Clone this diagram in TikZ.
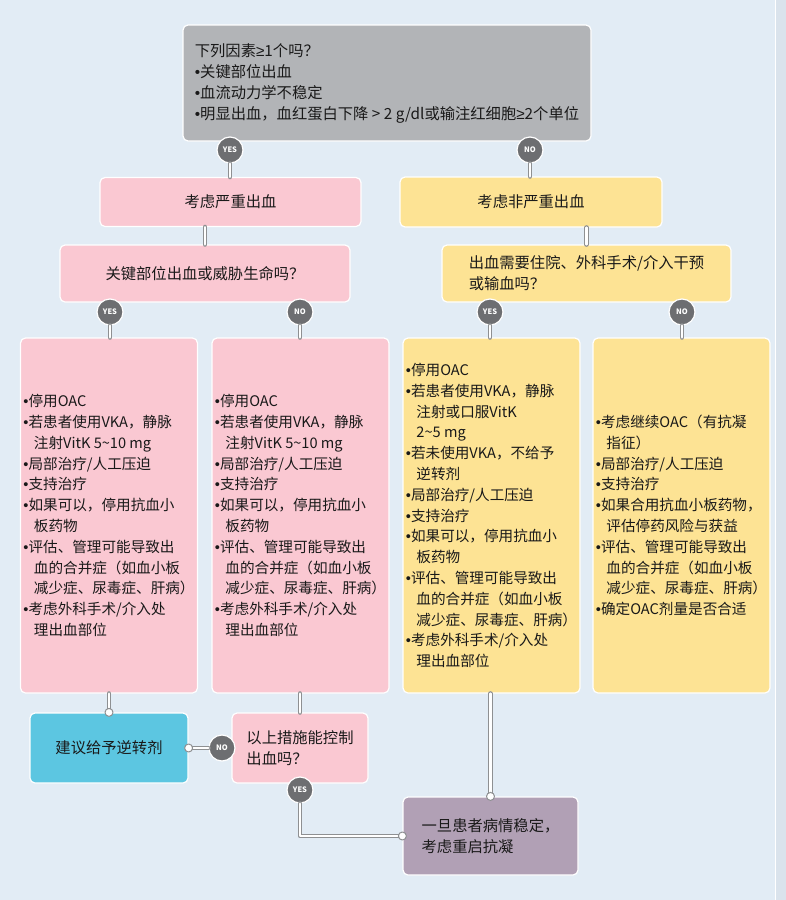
\documentclass[tikz,border=0pt]{standalone}
\usepackage{fontspec}
\newfontfamily\cjk{Noto Sans CJK SC}
\newfontfamily\latf{Liberation Sans}
\definecolor{bg}{HTML}{E2ECF5}
\definecolor{boxgray}{HTML}{B2B4B7}
\definecolor{boxpink}{HTML}{FAC8D2}
\definecolor{boxyellow}{HTML}{FDE394}
\definecolor{boxblue}{HTML}{5CC6E1}
\definecolor{boxpurple}{HTML}{B1A0B5}
\definecolor{dotgray}{HTML}{6D6E71}
\definecolor{pipegray}{HTML}{8E9092}
\newcommand\bu{{\latf •}}
\newcommand\ind{\hspace*{10.5pt}}
\newcommand\atleast{{\latf ≥}}
\tikzset{
 box/.style={draw=white, line width=1.2pt, rounded corners=5pt, inner sep=2pt, align=left, text=black!90},
 act/.style={box, minimum width=177, minimum height=355, inner sep=1.5pt, font=\cjk\fontsize{14.6}{20.8}\selectfont},
 pipe/.style={draw=pipegray, line width=1.2pt, double=white, double distance=2.4pt},
 yn/.style={circle, fill=dotgray, draw=white, line width=1.2pt, minimum size=26pt, inner sep=0pt, text=white, font=\cjk\fontsize{7.5}{7.5}\selectfont\bfseries},
 joint/.style={circle, fill=white, draw=pipegray, line width=1pt, minimum size=8pt, inner sep=0pt},
}
\begin{document}
\begin{tikzpicture}[x=1pt,y=-1pt,font=\cjk\fontsize{15.3}{21}\selectfont,line join=round,line cap=round]
\def\w{786}\def\h{900}
\useasboundingbox (0,0) rectangle (\w,\h);
\fill[bg] (0,0) rectangle (\w,\h);
\fill[bg!92!gray] (776,0) rectangle (\w,\h);
\draw[white,line width=0.8pt] (775.5,0) -- (775.5,\h);
% boxes
\node[box,fill=boxgray,minimum width=408,minimum height=116] (q1) at (387,83)
 {下列因素\atleast 1个吗？\\\bu 关键部位出血\\\bu 血流动力学不稳定\\\bu 明显出血，血红蛋白下降 > 2 g/dl或输注红细胞\atleast 2个单位};
\node[box,fill=boxpink,minimum width=261,minimum height=49] (serious) at (230.5,202) {考虑严重出血};
\node[box,fill=boxyellow,minimum width=262,minimum height=50] (mild) at (531,202) {考虑非严重出血};
\node[box,fill=boxpink,minimum width=290,minimum height=57] (q2) at (205,273.5) {关键部位出血或威胁生命吗？};
\node[box,fill=boxyellow,minimum width=289,minimum height=57] (q3) at (586.5,273.5)
 {出血需要住院、外科手术/介入干预\\或输血吗？};
\foreach \n/\x in {act1/109,act2/300.5}
 \node[act,fill=boxpink] (\n) at (\x,515.5)
 {\bu 停用OAC\\\bu 若患者使用VKA，静脉\\\ind 注射VitK 5\char`~10 mg\\\bu 局部治疗/人工压迫\\\bu 支持治疗\\
  \bu 如果可以，停用抗血小\\\ind 板药物\\\bu 评估、管理可能导致出\\\ind 血的合并症（如血小板\\
  \ind 减少症、尿毒症、肝病）\\\bu 考虑外科手术/介入处\\\ind 理出血部位};
\node[act,fill=boxyellow] (act3) at (491.5,515.5)
 {\bu 停用OAC\\\bu 若患者使用VKA，静脉\\\ind 注射或口服VitK\\\ind 2\char`~5 mg\\\bu 若未使用VKA，不给予\\\ind 逆转剂\\
  \bu 局部治疗/人工压迫\\\bu 支持治疗\\\bu 如果可以，停用抗血小\\\ind 板药物\\\bu 评估、管理可能导致出\\
  \ind 血的合并症（如血小板\\\ind 减少症、尿毒症、肝病）\\\bu 考虑外科手术/介入处\\\ind 理出血部位};
\node[act,fill=boxyellow] (act4) at (681.5,515.5)
 {\bu 考虑继续OAC（有抗凝\\\ind 指征）\\\bu 局部治疗/人工压迫\\\bu 支持治疗\\\bu 如果合用抗血小板药物，\\
  \ind 评估停药风险与获益\\\bu 评估、管理可能导致出\\\ind 血的合并症（如血小板\\\ind 减少症、尿毒症、肝病）\\
  \bu 确定OAC剂量是否合适};
\node[box,fill=boxblue,minimum width=158,minimum height=70] (rev) at (109,748) {建议给予逆转剂};
\node[box,fill=boxpink,minimum width=136,minimum height=70] (q4) at (300,748) {以上措施能控制\\出血吗？};
\node[box,fill=boxpurple,minimum width=175,minimum height=78] (restart) at (490.5,836)
 {一旦患者病情稳定，\\考虑重启抗凝};
% yes / no
\node[yn] (y1) at (230,150) {YES};
\node[yn] (n1) at (530,150) {NO};
\node[yn] (y2) at (110,312) {YES};
\node[yn] (n2) at (300,312) {NO};
\node[yn] (y3) at (490,312) {YES};
\node[yn] (n3) at (682,312) {NO};
\node[yn] (n4) at (222,748) {NO};
\node[yn] (y4) at (300,790) {YES};
% pipes
\draw[pipe] (y1.south) -- (serious.north -| y1);
\draw[pipe] (n1.south) -- (mild.north -| n1);
\draw[pipe] (q2.north |- serious.south) -- (q2.north);
\draw[pipe] (q3.north |- mild.south) -- (q3.north);
\foreach \a/\b in {y2/act1,n2/act2,y3/act3,n3/act4}
 \draw[pipe] (\a.south) -- (\b.north -| \a);
\draw[pipe] (act1.south) -- (rev.north);
\draw[pipe] (q4.north |- act2.south) -- (q4.north);
\draw[pipe] (n4.west) -- (rev.east);
\draw[pipe] (act3.south -| restart.north) -- (restart.north);
\draw[pipe] (y4.south) |- (restart.west);
\node[joint] (j1) at (rev.north) {};
\node[joint] (j2) at (rev.east) {};
\node[joint] (j3) at (restart.north) {};
\node[joint] (j4) at (restart.west) {};
\end{tikzpicture}
\end{document}
